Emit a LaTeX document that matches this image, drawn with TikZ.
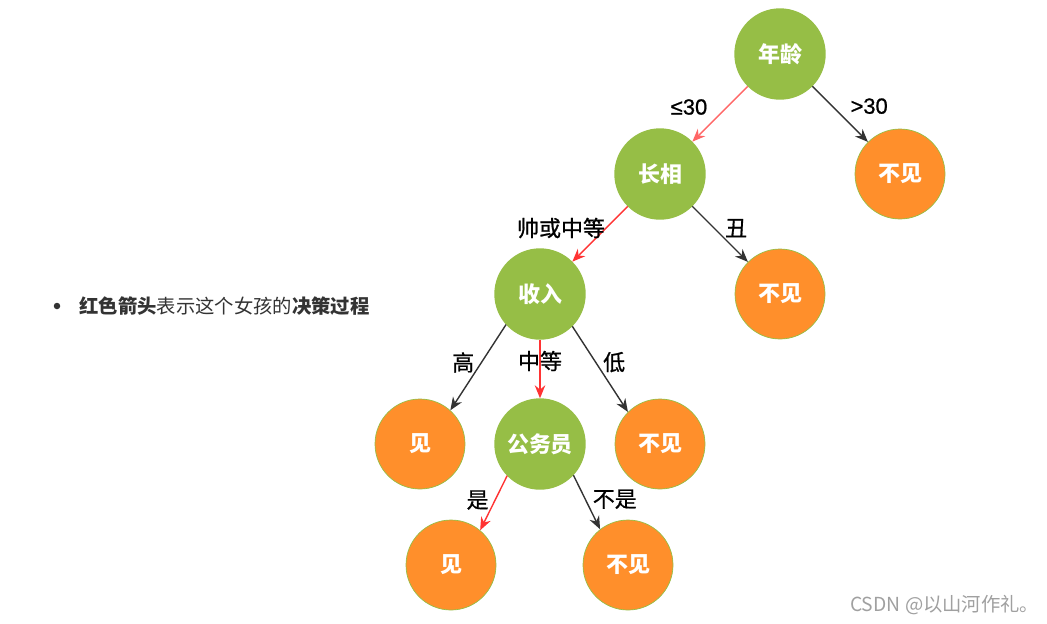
\documentclass[tikz,border=0pt]{standalone}
\usepackage{fontspec}
\setmainfont{Noto Sans CJK SC}
\newfontfamily\labelfont{Noto Sans CJK SC}[FakeBold=0.8]
\newfontfamily\numfont{Liberation Sans}[FakeBold=0.8]
\usepackage{xcolor}
\usepackage{tikz}
\usetikzlibrary{arrows.meta, positioning}

\definecolor{leafgreen}{HTML}{96BE46}
\definecolor{leaforange}{HTML}{FF8F2B}
\definecolor{pathred}{HTML}{FF3333}
\definecolor{pathlight}{HTML}{FF6666}
\definecolor{plaingray}{HTML}{333333}
\definecolor{markgray}{HTML}{A0A0A0}

\begin{document}
\begin{tikzpicture}[>={Stealth[length=2.6mm, width=2.1mm]}, on grid, thick]

% --- Style Definitions ---
% Attribute Nodes (Green)
\tikzstyle{attr_node}=[circle, draw=leafgreen, fill=leafgreen, minimum size=1.8cm, inner sep=0pt, text=white, font=\fontsize{12.5}{14}\selectfont\bfseries]
% Decision Nodes (Orange)
\tikzstyle{leaf_node}=[circle, draw=leafgreen, line width=0.4pt, fill=leaforange, minimum size=1.8cm, inner sep=0pt, text=white, font=\fontsize{12.5}{14}\selectfont\bfseries]
% Edge Labels
\tikzstyle{cond_label}=[inner sep=0pt, text=black, font=\fontsize{12.5}{14}\selectfont\labelfont]

% Arrow Styles
\tikzstyle{pick_arrow}=[->, line width=0.8pt, pathred]
\tikzstyle{first_arrow}=[->, line width=0.8pt, pathlight]
\tikzstyle{skip_arrow}=[->, line width=0.8pt, plaingray]

\useasboundingbox (0,0) rectangle (20.94,-12.46);

% --- 1. Top Levels ---
\node[attr_node] (Age) at (15.6,-1.08) {年龄};
\node[attr_node, below left=2.4cm and 2.4cm of Age] (Look) {长相};
\node[leaf_node, below right=2.4cm and 2.4cm of Age] (No_1) {不见};
\node[attr_node, below left=2.4cm and 2.4cm of Look] (Income) {收入};
\node[leaf_node, below right=2.4cm and 2.4cm of Look] (No_2) {不见};

% --- 2. Income Branches ---
\node[leaf_node, below left=3cm and 2.4cm of Income] (Yes_1) {见};
\node[attr_node, below=3cm of Income] (Civil) {公务员};
\node[leaf_node, below right=3cm and 2.4cm of Income] (No_3) {不见};

% --- 3. Civil Servant Branches ---
\node[leaf_node, below left=2.42cm and 1.78cm of Civil] (Yes_2) {见};
\node[leaf_node, below right=2.42cm and 1.76cm of Civil] (No_4) {不见};

% --- 4. Connectors ---
\draw[first_arrow] (Age) -- node[cond_label, midway, xshift=-0.62cm, yshift=0.14cm] (L_young) {\numfont ≤30} (Look);
\draw[skip_arrow] (Age) -- node[cond_label, midway, xshift=0.58cm, yshift=0.16cm] (L_old) {\numfont >30} (No_1);
\draw[pick_arrow] (Look) -- node[cond_label, midway, xshift=-0.78cm, yshift=0.12cm] (L_fine) {帅或中等} (Income);
\draw[skip_arrow] (Look) -- node[cond_label, midway, xshift=0.32cm, yshift=0.12cm] (L_ugly) {丑} (No_2);
\draw[skip_arrow] (Income.222) -- node[cond_label, midway, xshift=-0.3cm, yshift=0.1cm] (L_high) {高} (Yes_1.48);
\draw[pick_arrow] (Income) -- node[cond_label, midway, yshift=0.16cm] (L_mid) {中等} (Civil);
\draw[skip_arrow] (Income.-45) -- node[cond_label, midway, xshift=0.28cm, yshift=0.14cm] (L_low) {低} (No_3.135);
\draw[pick_arrow] (Civil.224) -- node[cond_label, midway, xshift=-0.32cm, yshift=0.06cm] (L_yes) {是} (Yes_2.50);
\draw[skip_arrow] (Civil.-43) -- node[cond_label, midway, xshift=0.56cm, yshift=0.06cm] (L_no) {不是} (No_4.128);

% --- Annotations ---
\node[circle, fill=plaingray, inner sep=0pt, minimum size=0.13cm] (Bullet) at (1.14,-6.12) {};
\node[anchor=west, inner sep=0pt, text=plaingray, font=\fontsize{11}{13}\selectfont, right=0.36cm of Bullet.east] (Note) {\textbf{红色箭头}表示这个女孩的\textbf{决策过程}};
\node[anchor=east, inner sep=0pt, text=markgray, font=\fontsize{11}{13}\selectfont] (Mark) at (20.8,-12.1) {CSDN @以山河作礼。};

\end{tikzpicture}
\end{document}
